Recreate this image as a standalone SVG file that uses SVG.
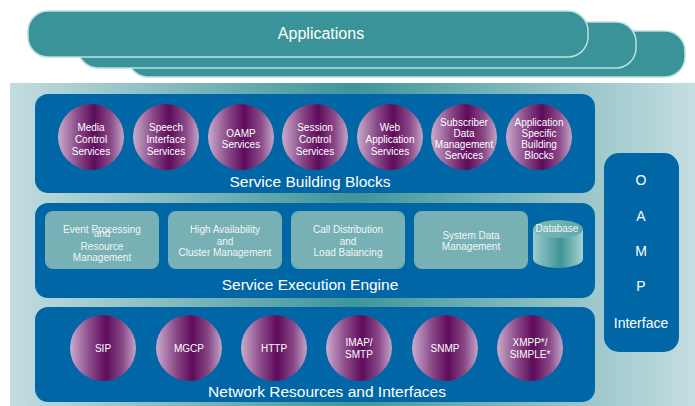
<svg xmlns="http://www.w3.org/2000/svg" width="695" height="406" viewBox="0 0 695 406">
<defs>
<linearGradient id="bg" x1="0" y1="0" x2="1" y2="0">
<stop offset="0" stop-color="#c3dde0"/>
<stop offset="0.5" stop-color="#3e959a"/>
<stop offset="1" stop-color="#c5dee1"/>
</linearGradient>
<linearGradient id="purple" x1="0" y1="0" x2="1" y2="0">
<stop offset="0" stop-color="#cbaccd"/>
<stop offset="0.3" stop-color="#8a4a88"/>
<stop offset="0.55" stop-color="#5e0b5b"/>
<stop offset="0.8" stop-color="#8a4a88"/>
<stop offset="1" stop-color="#c4a4c7"/>
</linearGradient>
<linearGradient id="cyl" x1="0" y1="0" x2="1" y2="0">
<stop offset="0" stop-color="#9ccbcb"/>
<stop offset="0.55" stop-color="#3f9595"/>
<stop offset="1" stop-color="#a6d2d2"/>
</linearGradient>
<linearGradient id="cyltop" x1="0" y1="0" x2="1" y2="0">
<stop offset="0" stop-color="#7fb9ba"/>
<stop offset="1" stop-color="#5ea6a8"/>
</linearGradient>
</defs>
<style>
.app{fill:#3a9399;stroke:#b9e1df;stroke-width:1.5}
.panel{fill:#0066a6}
.circ{fill:url(#purple)}
.box{fill:#77b0b5}
text{font-family:"Liberation Sans",Arial,sans-serif;fill:#ffffff;text-anchor:middle}
.t{font-size:15.5px}
.a{font-size:16px}
.c{font-size:10px}
.b{font-size:10px;fill:#f2f7f7}
.o{font-size:14px}
</style>

<g id="applications">
<rect class="app" x="128" y="31" width="557" height="46" rx="20"/>
<rect class="app" x="78" y="22" width="558" height="46" rx="20"/>
<rect class="app" x="28" y="11" width="560" height="46" rx="20"/>
<text class="a" x="321" y="39">Applications</text>
</g>

<rect id="background" x="10" y="83" width="685" height="323" fill="url(#bg)"/>

<g id="service-building-blocks">
<rect class="panel" x="35" y="94" width="560" height="99" rx="13"/>
<text class="t" x="310" y="187">Service Building Blocks</text>
<g id="media-control">
<circle class="circ" cx="91" cy="137" r="33"/>
<text class="c" x="91" y="131">Media</text><text class="c" x="91" y="143">Control</text><text class="c" x="91" y="155">Services</text>
</g>
<g id="speech-interface">
<circle class="circ" cx="166" cy="137" r="33"/>
<text class="c" x="166" y="131">Speech</text><text class="c" x="166" y="143">Interface</text><text class="c" x="166" y="155">Services</text>
</g>
<g id="oamp-services">
<circle class="circ" cx="241" cy="137" r="33"/>
<text class="c" x="241" y="137">OAMP</text><text class="c" x="241" y="148">Services</text>
</g>
<g id="session-control">
<circle class="circ" cx="315" cy="137" r="33"/>
<text class="c" x="315" y="131">Session</text><text class="c" x="315" y="143">Control</text><text class="c" x="315" y="155">Services</text>
</g>
<g id="web-application">
<circle class="circ" cx="390" cy="137" r="33"/>
<text class="c" x="390" y="131">Web</text><text class="c" x="390" y="143">Application</text><text class="c" x="390" y="155">Services</text>
</g>
<g id="subscriber-data">
<circle class="circ" cx="464" cy="137" r="33"/>
<text class="c" x="464" y="125.5">Subscriber</text><text class="c" x="464" y="137">Data</text><text class="c" x="464" y="148">Management</text><text class="c" x="464" y="159">Services</text>
</g>
<g id="app-specific">
<circle class="circ" cx="539" cy="137" r="33"/>
<text class="c" x="539" y="125.5">Application</text><text class="c" x="539" y="137">Specific</text><text class="c" x="539" y="148">Building</text><text class="c" x="539" y="159">Blocks</text>
</g>
</g>

<g id="service-execution-engine">
<rect class="panel" x="35" y="203" width="560" height="95" rx="13"/>
<text class="t" x="310" y="290">Service Execution Engine</text>
<g id="event-processing">
<rect class="box" x="45" y="211" width="114" height="58" rx="8"/>
<text class="b" x="102" y="233">Event Processing</text><text class="b" x="102" y="237">and</text><text class="b" x="102" y="250">Resource</text><text class="b" x="102" y="261">Management</text>
</g>
<g id="high-availability">
<rect class="box" x="168" y="211" width="114" height="58" rx="8"/>
<text class="b" x="225" y="233">High Availability</text><text class="b" x="225" y="245">and</text><text class="b" x="225" y="256">Cluster Management</text>
</g>
<g id="call-distribution">
<rect class="box" x="291" y="211" width="114" height="58" rx="8"/>
<text class="b" x="348" y="233">Call Distribution</text><text class="b" x="348" y="245">and</text><text class="b" x="348" y="256">Load Balancing</text>
</g>
<g id="system-data">
<rect class="box" x="414" y="211" width="114" height="58" rx="8"/>
<text class="b" x="471" y="239">System Data</text><text class="b" x="471" y="250">Management</text>
</g>
<g id="database">
<path d="M533 229 V259 A25 9 0 0 0 583 259 V229 Z" fill="url(#cyl)"/>
<ellipse cx="558" cy="229" rx="25" ry="9" fill="url(#cyltop)"/>
<text class="b" x="557" y="232">Database</text>
</g>
</g>

<g id="network-resources">
<rect class="panel" x="35" y="307" width="560" height="95" rx="13"/>
<text class="t" x="327" y="397">Network Resources and Interfaces</text>
<g id="sip"><circle class="circ" cx="103" cy="348" r="33"/><text class="c" x="103" y="352">SIP</text></g>
<g id="mgcp"><circle class="circ" cx="189" cy="348" r="33"/><text class="c" x="189" y="352">MGCP</text></g>
<g id="http"><circle class="circ" cx="274" cy="348" r="33"/><text class="c" x="274" y="352">HTTP</text></g>
<g id="imap-smtp"><circle class="circ" cx="359" cy="348" r="33"/><text class="c" x="359" y="346">IMAP/</text><text class="c" x="359" y="358">SMTP</text></g>
<g id="snmp"><circle class="circ" cx="445" cy="348" r="33"/><text class="c" x="445" y="352">SNMP</text></g>
<g id="xmpp"><circle class="circ" cx="530" cy="348" r="33"/><text class="c" x="530" y="346">XMPP*/</text><text class="c" x="530" y="358">SIMPLE*</text></g>
</g>

<g id="oamp-interface">
<rect class="panel" x="604" y="153" width="75" height="199" rx="15"/>
<text class="o" x="641" y="185">O</text>
<text class="o" x="641" y="221">A</text>
<text class="o" x="641" y="256">M</text>
<text class="o" x="641" y="291">P</text>
<text class="o" x="641" y="328">Interface</text>
</g>

<g id="connectors"></g>
</svg>
